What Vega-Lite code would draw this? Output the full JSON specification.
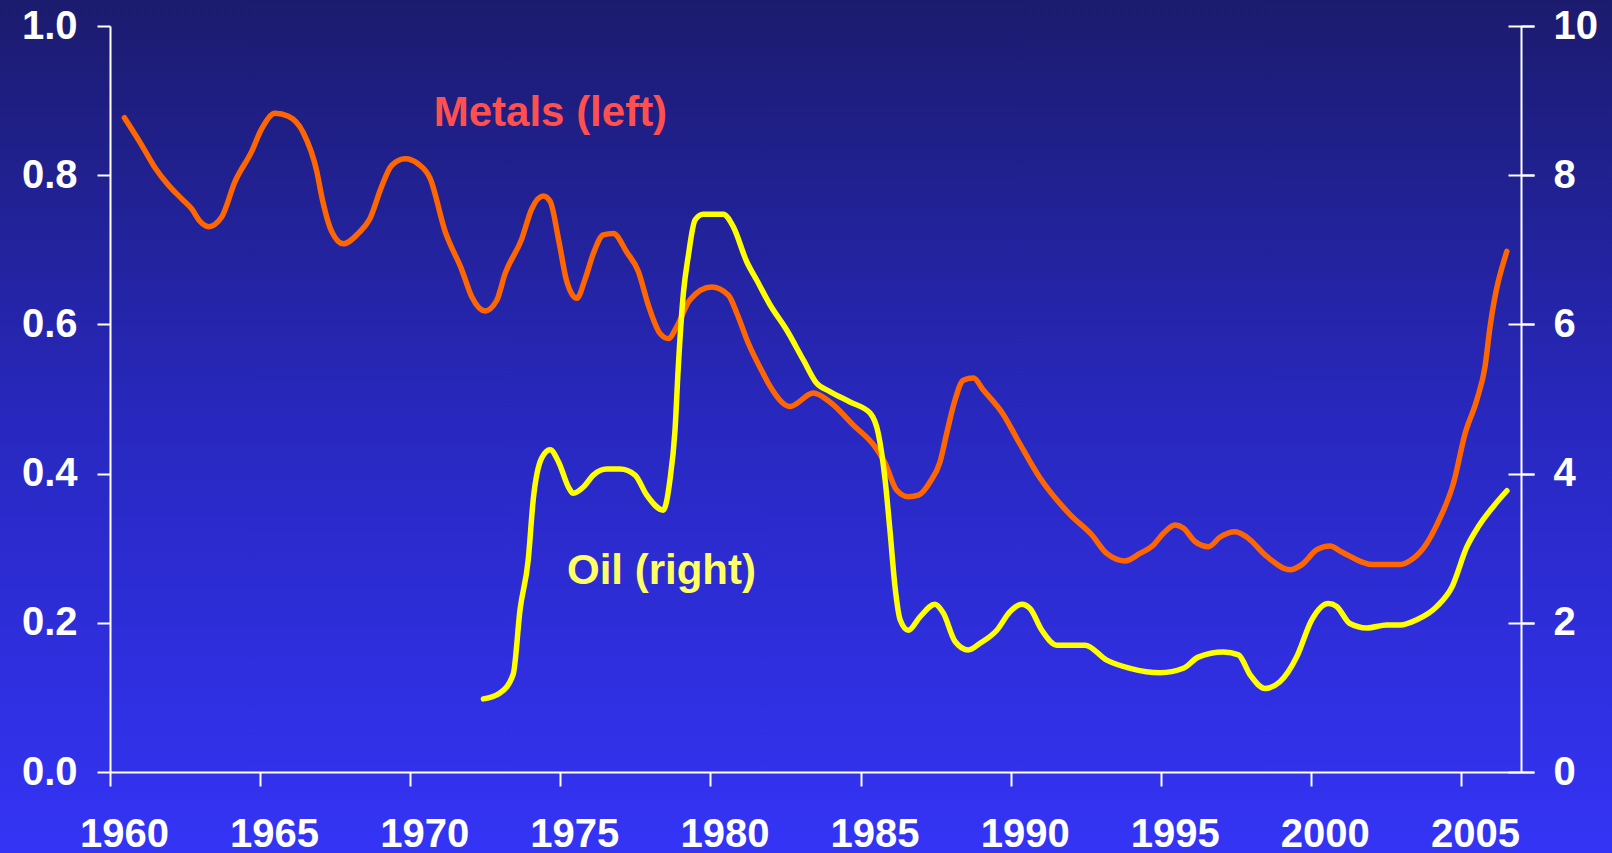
{
  "$schema": "https://vega.github.io/schema/vega-lite/v6.json",
  "width": 1411,
  "height": 746,
  "autosize": "none",
  "padding": {"left": 110, "top": 26, "right": 91, "bottom": 81},
  "background": "#2828c0",
  "config": {
    "view": {"stroke": null},
    "axis": {
      "labelFont": "Liberation Sans",
      "labelFontWeight": "bold",
      "labelFontSize": 40,
      "labelColor": "white",
      "domainColor": "white",
      "tickColor": "white",
      "domainWidth": 2,
      "tickWidth": 2,
      "grid": false,
      "labelOverlap": false,
      "labelFlush": false,
      "labelBound": false
    }
  },
  "datasets": {
    "metals": [
      {"year": 1960.48, "value": 0.877}, {"year": 1961.06, "value": 0.840}, {"year": 1961.5, "value": 0.810},
      {"year": 1961.94, "value": 0.787}, {"year": 1962.4, "value": 0.768}, {"year": 1962.72, "value": 0.755},
      {"year": 1963.0, "value": 0.738}, {"year": 1963.28, "value": 0.731}, {"year": 1963.72, "value": 0.744},
      {"year": 1964.16, "value": 0.791}, {"year": 1964.72, "value": 0.832}, {"year": 1965.05, "value": 0.862},
      {"year": 1965.5, "value": 0.883}, {"year": 1965.94, "value": 0.879}, {"year": 1966.44, "value": 0.857},
      {"year": 1966.89, "value": 0.805}, {"year": 1967.05, "value": 0.772}, {"year": 1967.38, "value": 0.725},
      {"year": 1967.77, "value": 0.708}, {"year": 1968.27, "value": 0.722}, {"year": 1968.66, "value": 0.742},
      {"year": 1969.05, "value": 0.785}, {"year": 1969.38, "value": 0.813}, {"year": 1969.83, "value": 0.822},
      {"year": 1970.27, "value": 0.815}, {"year": 1970.66, "value": 0.796}, {"year": 1971.16, "value": 0.725},
      {"year": 1971.72, "value": 0.673}, {"year": 1972.05, "value": 0.637}, {"year": 1972.49, "value": 0.618},
      {"year": 1972.88, "value": 0.632}, {"year": 1973.16, "value": 0.668}, {"year": 1973.71, "value": 0.714},
      {"year": 1974.05, "value": 0.755}, {"year": 1974.43, "value": 0.772}, {"year": 1974.66, "value": 0.765},
      {"year": 1974.95, "value": 0.712}, {"year": 1975.2, "value": 0.66}, {"year": 1975.55, "value": 0.635},
      {"year": 1975.82, "value": 0.66}, {"year": 1976.1, "value": 0.695}, {"year": 1976.43, "value": 0.72},
      {"year": 1976.77, "value": 0.722}, {"year": 1977.21, "value": 0.697}, {"year": 1977.6, "value": 0.671},
      {"year": 1977.93, "value": 0.626}, {"year": 1978.32, "value": 0.588}, {"year": 1978.6, "value": 0.581},
      {"year": 1978.88, "value": 0.597}, {"year": 1979.32, "value": 0.633}, {"year": 1980.04, "value": 0.650},
      {"year": 1980.6, "value": 0.639}, {"year": 1980.88, "value": 0.615}, {"year": 1981.26, "value": 0.575},
      {"year": 1981.76, "value": 0.534}, {"year": 1981.99, "value": 0.517}, {"year": 1982.65, "value": 0.490},
      {"year": 1983.43, "value": 0.508}, {"year": 1983.98, "value": 0.496}, {"year": 1984.76, "value": 0.465},
      {"year": 1985.48, "value": 0.436}, {"year": 1985.82, "value": 0.414}, {"year": 1986.2, "value": 0.378},
      {"year": 1986.59, "value": 0.369}, {"year": 1986.93, "value": 0.371}, {"year": 1987.32, "value": 0.389},
      {"year": 1987.65, "value": 0.416}, {"year": 1987.87, "value": 0.454}, {"year": 1988.15, "value": 0.499},
      {"year": 1988.42, "value": 0.525}, {"year": 1988.76, "value": 0.528}, {"year": 1989.09, "value": 0.512},
      {"year": 1989.76, "value": 0.479}, {"year": 1990.25, "value": 0.444}, {"year": 1990.98, "value": 0.394},
      {"year": 1991.98, "value": 0.345}, {"year": 1992.7, "value": 0.318}, {"year": 1993.2, "value": 0.293},
      {"year": 1993.81, "value": 0.283}, {"year": 1994.31, "value": 0.293}, {"year": 1994.75, "value": 0.304},
      {"year": 1995.09, "value": 0.320}, {"year": 1995.48, "value": 0.331}, {"year": 1995.75, "value": 0.327},
      {"year": 1996.14, "value": 0.309}, {"year": 1996.59, "value": 0.302}, {"year": 1996.98, "value": 0.315},
      {"year": 1997.47, "value": 0.322}, {"year": 1997.86, "value": 0.315}, {"year": 1998.53, "value": 0.289},
      {"year": 1999.31, "value": 0.271}, {"year": 1999.7, "value": 0.278}, {"year": 2000.2, "value": 0.298},
      {"year": 2000.64, "value": 0.303}, {"year": 2001.03, "value": 0.295}, {"year": 2002.08, "value": 0.278},
      {"year": 2002.97, "value": 0.278}, {"year": 2003.25, "value": 0.282}, {"year": 2003.75, "value": 0.300},
      {"year": 2004.25, "value": 0.336}, {"year": 2004.75, "value": 0.387}, {"year": 2005.14, "value": 0.454},
      {"year": 2005.53, "value": 0.499}, {"year": 2005.8, "value": 0.543}, {"year": 2005.97, "value": 0.597},
      {"year": 2006.53, "value": 0.698}
    ],
    "oil": [
      {"year": 1972.44, "value": 0.98}, {"year": 1972.99, "value": 1.06}, {"year": 1973.43, "value": 1.31},
      {"year": 1973.66, "value": 2.18}, {"year": 1973.93, "value": 2.84}, {"year": 1974.1, "value": 3.66},
      {"year": 1974.38, "value": 4.21}, {"year": 1974.66, "value": 4.32}, {"year": 1974.95, "value": 4.15},
      {"year": 1975.27, "value": 3.82}, {"year": 1975.43, "value": 3.735}, {"year": 1975.77, "value": 3.82},
      {"year": 1976.1, "value": 3.98}, {"year": 1976.55, "value": 4.06}, {"year": 1976.99, "value": 4.06},
      {"year": 1977.49, "value": 3.98}, {"year": 1977.88, "value": 3.71}, {"year": 1978.43, "value": 3.51},
      {"year": 1978.65, "value": 3.91}, {"year": 1978.82, "value": 4.58}, {"year": 1978.93, "value": 5.43},
      {"year": 1979.1, "value": 6.42}, {"year": 1979.26, "value": 6.91}, {"year": 1979.49, "value": 7.40},
      {"year": 1979.76, "value": 7.475}, {"year": 1980.43, "value": 7.475}, {"year": 1980.76, "value": 7.31},
      {"year": 1981.21, "value": 6.84}, {"year": 1981.54, "value": 6.595}, {"year": 1981.99, "value": 6.26},
      {"year": 1982.54, "value": 5.925}, {"year": 1983.1, "value": 5.52}, {"year": 1983.54, "value": 5.21},
      {"year": 1983.98, "value": 5.10}, {"year": 1984.65, "value": 4.96}, {"year": 1985.32, "value": 4.81},
      {"year": 1985.59, "value": 4.54}, {"year": 1985.82, "value": 3.91}, {"year": 1985.98, "value": 3.24},
      {"year": 1986.15, "value": 2.48}, {"year": 1986.32, "value": 2.04}, {"year": 1986.59, "value": 1.90},
      {"year": 1986.98, "value": 2.08}, {"year": 1987.48, "value": 2.25}, {"year": 1987.76, "value": 2.13},
      {"year": 1988.15, "value": 1.75}, {"year": 1988.59, "value": 1.635}, {"year": 1988.98, "value": 1.725},
      {"year": 1989.54, "value": 1.90}, {"year": 1989.98, "value": 2.15}, {"year": 1990.37, "value": 2.25},
      {"year": 1990.65, "value": 2.19}, {"year": 1991.04, "value": 1.90}, {"year": 1991.54, "value": 1.70},
      {"year": 1992.48, "value": 1.70}, {"year": 1993.2, "value": 1.50}, {"year": 1993.98, "value": 1.39},
      {"year": 1994.98, "value": 1.33}, {"year": 1995.75, "value": 1.39}, {"year": 1996.25, "value": 1.54},
      {"year": 1997.09, "value": 1.61}, {"year": 1997.59, "value": 1.57}, {"year": 1997.98, "value": 1.30},
      {"year": 1998.47, "value": 1.12}, {"year": 1998.97, "value": 1.21}, {"year": 1999.53, "value": 1.545},
      {"year": 2000.03, "value": 2.04}, {"year": 2000.58, "value": 2.26}, {"year": 2000.86, "value": 2.22},
      {"year": 2001.3, "value": 1.99}, {"year": 2001.86, "value": 1.93}, {"year": 2002.53, "value": 1.97},
      {"year": 2002.97, "value": 1.97}, {"year": 2003.53, "value": 2.04}, {"year": 2004.2, "value": 2.22},
      {"year": 2004.7, "value": 2.48}, {"year": 2005.2, "value": 3.02}, {"year": 2005.58, "value": 3.29},
      {"year": 2006.08, "value": 3.56}, {"year": 2006.53, "value": 3.77}
    ],
    "metalsLabel": [{"label": "Metals (left)", "year": 1974.67, "value": 0.866}],
    "oilLabel": [{"label": "Oil (right)", "year": 1978.37, "value": 2.52}]
  },
  "layer": [
    {
      "layer": [
        {
          "data": {"values": [{}]},
          "mark": {
            "type": "rect",
            "clip": false,
            "fill": {
              "gradient": "linear",
              "x1": 0, "y1": 0, "x2": 0, "y2": 1,
              "stops": [
                {"offset": 0, "color": "#1b1b6e"},
                {"offset": 0.5, "color": "#2828c0"},
                {"offset": 1, "color": "#3434f6"}
              ]
            }
          },
          "encoding": {
            "x": {"datum": 1956, "type": "quantitative", "scale": {"domain": [1960, 2007], "nice": false, "zero": false}},
            "x2": {"datum": 2011},
            "y": {"datum": 1.0349, "type": "quantitative", "scale": {"domain": [0, 1], "nice": false, "zero": false}},
            "y2": {"datum": -0.1086}
          }
        },
        {
          "data": {"name": "metals"},
          "mark": {"type": "line", "color": "#ff6600", "strokeWidth": 5.5, "interpolate": "monotone", "strokeCap": "round", "strokeJoin": "round"},
          "encoding": {
            "x": {
              "field": "year", "type": "quantitative", "title": null,
              "scale": {"domain": [1960, 2007], "nice": false, "zero": false},
              "axis": {"zindex": 2, "values": [1960, 1965, 1970, 1975, 1980, 1985, 1990, 1995, 2000, 2005], "format": "d", "tickSize": 14, "labelPadding": 28, "labelOffset": 14}
            },
            "y": {
              "field": "value", "type": "quantitative", "title": null,
              "scale": {"domain": [0, 1], "nice": false, "zero": false},
              "axis": {"zindex": 2, "orient": "left", "values": [0, 0.2, 0.4, 0.6, 0.8, 1.0], "format": ".1f", "tickSize": 13, "labelPadding": 20}
            }
          }
        },
        {
          "data": {"name": "metalsLabel"},
          "mark": {"type": "text", "font": "Liberation Sans", "fontWeight": "bold", "fontSize": 42, "color": "#ff5050", "align": "center", "baseline": "alphabetic"},
          "encoding": {
            "x": {"field": "year", "type": "quantitative"},
            "y": {"field": "value", "type": "quantitative"},
            "text": {"field": "label"}
          }
        }
      ]
    },
    {
      "data": {"name": "oil"},
      "mark": {"type": "line", "color": "#ffff00", "strokeWidth": 5.5, "interpolate": "monotone", "strokeCap": "round", "strokeJoin": "round"},
      "encoding": {
        "x": {"field": "year", "type": "quantitative"},
        "y": {
          "field": "value", "type": "quantitative", "title": null,
          "scale": {"domain": [0, 10], "nice": false, "zero": false},
          "axis": {"zindex": 2, "orient": "right", "values": [0, 2, 4, 6, 8, 10], "format": "d", "tickSize": 13, "labelPadding": 19}
        }
      }
    },
    {
      "data": {"name": "oilLabel"},
      "mark": {"type": "text", "font": "Liberation Sans", "fontWeight": "bold", "fontSize": 42, "color": "#ffff66", "align": "center", "baseline": "alphabetic"},
      "encoding": {
        "x": {"field": "year", "type": "quantitative"},
        "y": {
          "field": "value", "type": "quantitative", "title": null,
          "scale": {"domain": [0, 10], "nice": false, "zero": false},
          "axis": {"zindex": 2, "orient": "right", "values": [0, 2, 4, 6, 8, 10], "offset": -13, "tickSize": 26, "labels": false, "domain": false}
        },
        "text": {"field": "label"}
      }
    }
  ],
  "resolve": {"scale": {"y": "independent"}}
}
